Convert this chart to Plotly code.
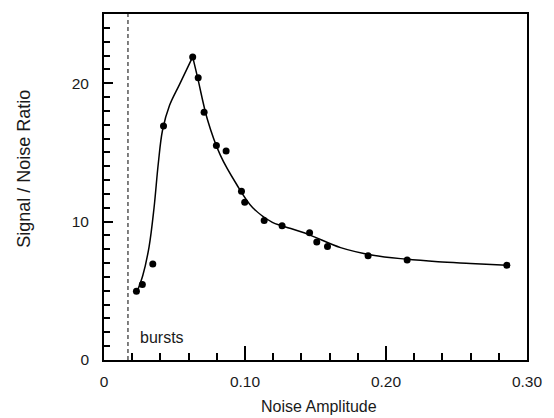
import plotly.graph_objects as go

# measured points
pts_x = [0.0230, 0.0272, 0.0346, 0.0422, 0.0629, 0.0668, 0.0710, 0.0797, 0.0866,
         0.0975, 0.0998, 0.1136, 0.1263, 0.1458, 0.1509, 0.1585, 0.1873, 0.2150, 0.2857]
pts_y = [4.97, 5.45, 6.93, 16.9, 21.9, 20.4, 17.9, 15.5, 15.1,
         12.2, 11.4, 10.08, 9.7, 9.2, 8.53, 8.2, 7.53, 7.22, 6.85]

# fitted curve (rising and falling branches)
rise_x = [0.0235, 0.0275, 0.0320, 0.0355, 0.0385, 0.0415, 0.0465, 0.0535, 0.0629]
rise_y = [4.95, 6.1, 8.2, 11.0, 14.2, 16.6, 18.4, 19.9, 21.9]
fall_x = [0.0629, 0.0664, 0.0733, 0.0825, 0.0940, 0.1055, 0.1194, 0.1263, 0.1447,
          0.1678, 0.1908, 0.2138, 0.2369, 0.2599, 0.2857]
fall_y = [21.9, 20.4, 17.4, 14.8, 12.7, 11.0, 9.95, 9.7, 9.08,
          8.12, 7.57, 7.29, 7.10, 6.98, 6.85]

burst_x = 0.017
x_tickvals = [0, 0.1, 0.2, 0.3]
x_ticktext = ["0", "0.10", "0.20", "0.30"]
y_tickvals = [0, 10, 20]
y_ticktext = ["0", "10", "20"]

FONT = "Liberation Sans, Arial, Helvetica, sans-serif"
TXT = "#1a1a1a"

fig = go.Figure()
for cx, cy in [(rise_x, rise_y), (fall_x, fall_y)]:
    fig.add_trace(go.Scatter(x=cx, y=cy, mode="lines",
                             line=dict(color="black", width=1.5, shape="spline", smoothing=1.0),
                             hoverinfo="skip", showlegend=False))
fig.add_trace(go.Scatter(x=pts_x, y=pts_y, mode="markers",
                         marker=dict(color="black", size=7), showlegend=False))

fig.add_shape(type="line", x0=burst_x, x1=burst_x, y0=0, y1=1, xref="x", yref="paper",
              line=dict(color="black", width=1, dash="4px,3px"))

fig.add_annotation(x=0.0242, y=1.6, xref="x", yref="y", text="bursts", showarrow=False,
                   xanchor="left", yanchor="middle", font=dict(size=16, color=TXT, family=FONT))
fig.add_annotation(x=-0.189, y=0.553, xref="paper", yref="paper", text="Signal / Noise Ratio",
                   textangle=-90, showarrow=False, xanchor="center", yanchor="middle",
                   font=dict(size=18, color=TXT, family=FONT))
fig.add_annotation(x=0.509, y=-0.133, xref="paper", yref="paper", text="Noise Amplitude",
                   showarrow=False, xanchor="center", yanchor="middle",
                   font=dict(size=16, color=TXT, family=FONT))

fig.update_layout(
    width=554, height=418,
    margin=dict(l=104, r=16, t=13, b=58),
    paper_bgcolor="white", plot_bgcolor="white",
    font=dict(family=FONT, size=15.5, color=TXT),
    xaxis=dict(range=[0, 0.3], tickvals=x_tickvals, ticktext=x_ticktext,
               ticks="inside", ticklen=14, tickwidth=1.5, tickcolor="black",
               minor=dict(dtick=0.02, tick0=0, ticks="inside", ticklen=7, tickwidth=1.5, tickcolor="black"),
               showgrid=False, zeroline=False, showline=True, linecolor="black", linewidth=1.8, mirror=True,
               tickfont=dict(size=15.5, color=TXT), ticklabelstandoff=6),
    yaxis=dict(range=[0, 25], tickvals=y_tickvals, ticktext=y_ticktext,
               ticks="inside", ticklen=9, tickwidth=1.5, tickcolor="black",
               minor=dict(dtick=1, tick0=0, ticks="inside", ticklen=6, tickwidth=1.5, tickcolor="black"),
               showgrid=False, zeroline=False, showline=True, linecolor="black", linewidth=1.8, mirror=True,
               tickfont=dict(size=15.5, color=TXT), ticklabelstandoff=10),
)

fig.write_html("out.html", config={"displayModeBar": False},
               post_script="document.body.style.margin='0';document.body.style.overflow='hidden';")
